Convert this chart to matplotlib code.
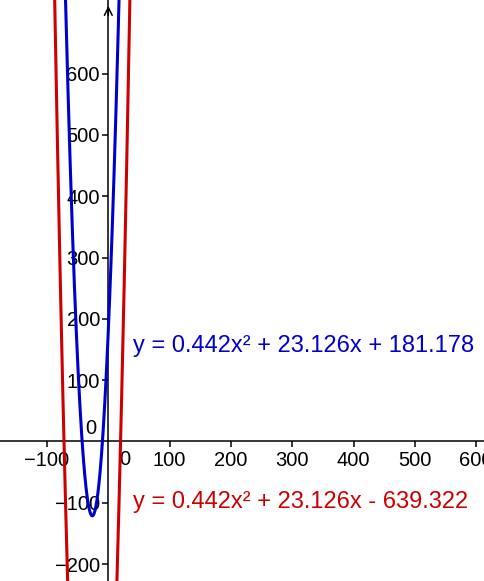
import numpy as np
import matplotlib.pyplot as plt

plt.rcParams['font.family'] = ['Liberation Sans', 'DejaVu Sans']

# y = a x^2 + b x + c
a = 0.442
b = 23.126
c_blue = 181.178
c_red = -639.322

blue_label = "y = 0.442x\u00b2 + 23.126x + 181.178"
red_label = "y = 0.442x\u00b2 + 23.126x - 639.322"

xticks = [-100, 100, 200, 300, 400, 500, 600]
yticks = [-200, -100, 100, 200, 300, 400, 500, 600]

fig = plt.figure(figsize=(4.85, 5.81), dpi=100)
ax = fig.add_axes([0, 0, 1, 1])
ax.set_xlim(-176.7, 614.5)
ax.set_ylim(-227.6, 720)

xs = np.linspace(-176.7, 614.5, 4000)
ax.plot(xs, a * xs**2 + b * xs + c_blue, color='#0000cc', lw=2.2, zorder=4)
ax.plot(xs, a * xs**2 + b * xs + c_red, color='#cc0000', lw=2.2, zorder=4)

# axes through the origin
for s in ['top', 'right']:
    ax.spines[s].set_visible(False)
ax.spines['left'].set_position(('data', 0))
ax.spines['bottom'].set_position(('data', 0))
ax.spines['left'].set_linewidth(1.1)
ax.spines['bottom'].set_linewidth(1.1)
ax.set_xticks(xticks)
ax.set_yticks(yticks)
ax.tick_params(direction='out', length=4, width=1.1, labelsize=14.5)
ax.tick_params(axis='x', pad=3)
ax.tick_params(axis='y', pad=2)
ax.patch.set_visible(False)

ax.annotate('', xy=(0, 715), xytext=(0, 690),
            arrowprops=dict(arrowstyle='->', color='black', lw=1.1,
                            mutation_scale=14))

ax.text(27.4, -30, '0', fontsize=14.5, ha='center', va='center')
ax.text(-28.2, 21.2, '0', fontsize=14.5, ha='center', va='center')

ax.text(40.3, 155.8, blue_label, color='#0000cc', fontsize=17,
        ha='left', va='center')
ax.text(40.3, -98.7, red_label, color='#cc0000', fontsize=17,
        ha='left', va='center')

fig.savefig('out.png', dpi=100)
